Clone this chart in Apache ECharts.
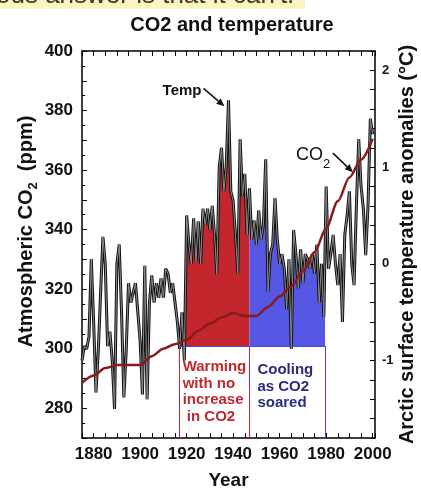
<!DOCTYPE html>
<html>
<head>
<meta charset="utf-8">
<title>CO2 and temperature</title>
<script src="https://cdn.jsdelivr.net/npm/echarts@6/dist/echarts.min.js"></script>
<style>
  html, body { margin: 0; padding: 0; background: #fff; }
  #main { width: 421px; height: 491px; }
</style>
</head>
<body>
<div id="main"></div>
<script>
// Arctic surface temperature anomalies (°C), one value per year from 1875
const tempStartYear = 1875;
const tempAnomaly = [
  -1.0, -0.85, -0.88, -0.75, 0.05, -0.6, -1.33, -0.9, -0.3, 0.28,
  0.0, -0.85, -0.7, -1.0, -1.5, 0.0, 0.2, -0.5, -1.38, -0.9,
  -0.2, -0.4, -0.3, -0.2, -0.5, -0.8, -1.35, -0.02, -1.4, -0.4,
  -0.12, -0.4, -0.2, -0.35, -0.15, -0.35, -0.05, -0.1, -0.3, -0.2,
  -0.4, -0.6, -0.88, -0.5, -1.0, 0.5, 0.2, 0.0, 0.47, 0.02,
  0.44, 0.0, 0.57, 0.4, 0.57, 0.35, 0.6, 0.3, -0.11, 1.0,
  1.2, 0.75, 1.0, 1.69, 0.75, 0.65, 0.3, -0.1, 1.29, 0.7,
  0.93, 0.3, 0.78, 0.25, 0.45, 0.2, 0.55, 0.25, 0.4, 1.08,
  -0.29, 0.1, 0.2, 0.68, 0.25, 0.0, 0.1, -0.05, -0.47, 0.05,
  -0.88, 0.35, 0.1, -0.25, 0.15, -0.2, 0.1, 0.05, -0.05, 0.1,
  -0.1, 0.2, -0.4, 0.0, -0.55, 0.8, -0.05, 0.1, 0.3, 0.0,
  -0.22, 0.1, -0.6, 0.3, 0.5, 0.75, 0.0, -0.22, 0.6, 1.29,
  0.8, 0.57, 0.09, 0.6, 1.5, 1.34
];

// Atmospheric CO2 (ppm)
const co2Years = [1875, 1880, 1885, 1890, 1895, 1900, 1905, 1910, 1915, 1920, 1925, 1930, 1935,
  1940, 1945, 1950, 1955, 1960, 1965, 1970, 1975, 1980, 1985, 1990, 1995, 2000];
const co2Ppm = [288.5, 291, 293.5, 294.5, 294.5, 294.5, 297.5, 300, 301.5, 303, 306, 308.5, 310.5,
  312, 311, 311, 314, 317.5, 321, 326, 332.5, 340.5, 349.5, 357.5, 363.5, 370.5];

const yearTicks = [1880, 1900, 1920, 1940, 1960, 1980, 2000];
const co2Ticks = [280, 300, 320, 340, 360, 380, 400];
const tempTicks = [-1, 0, 1, 2];

// warming / cooling periods and the level the shading starts from
const periods = [1917, 1947, 1979.5];
const baseline = -0.85;
const periodNotes = ['Warming\nwith no\nincrease\n in CO2', 'Cooling\nas CO2\nsoared'];

const RED = '#c4262e';
const BLUE = '#5757e6';
const FONT = 'Liberation Sans, Arial, sans-serif';

let tempSeries = tempAnomaly.map((v, i) => [tempStartYear + i, v]);
let co2Series = co2Years.map((y, i) => [y, co2Ppm[i]]);

function valueAt(year) {
  let i = Math.floor(year) - tempStartYear;
  let f = year - Math.floor(year);
  if (f === 0) return tempAnomaly[i];
  return tempAnomaly[i] + (tempAnomaly[i + 1] - tempAnomaly[i]) * f;
}

function periodFill(from, to) {
  let pts = [[from, Math.max(valueAt(from), baseline)]];
  tempSeries.forEach(p => {
    if (p[0] > from && p[0] < to) pts.push([p[0], Math.max(p[1], baseline)]);
  });
  pts.push([to, Math.max(valueAt(to), baseline)]);
  return pts;
}

function tickFormatter(list) {
  return function (v) {
    return list.some(t => Math.abs(t - v) < 1e-6) ? String(Math.round(v)) : '';
  };
}

let axisLine = {show: true, onZero: false, lineStyle: {color: '#000', width: 1.5}};
let axisTick = {show: true, inside: true, length: 5, lineStyle: {color: '#000', width: 1}};

let chartDom = document.getElementById('main');
let myChart = echarts.init(chartDom);
let option = {
  animation: false,
  textStyle: {fontFamily: FONT},
  title: {
    text: 'CO2 and temperature',
    left: 227,
    top: 10,
    textAlign: 'center',
    textStyle: {fontSize: 20, fontWeight: 'bold', color: '#111', fontFamily: FONT}
  },
  grid: {left: 82, right: 46, top: 51, bottom: 53, containLabel: false, outerBoundsMode: 'none'},
  xAxis: [
    {
      type: 'value', min: 1875, max: 2001, interval: 5, position: 'bottom',
      axisLine: axisLine, axisTick: axisTick, splitLine: {show: false},
      axisLabel: {formatter: tickFormatter(yearTicks), fontSize: 17, fontWeight: 'bold', color: '#111', margin: 8},
      name: 'Year', nameLocation: 'middle', nameGap: 33, nameMoveOverlap: false,
      nameTextStyle: {fontSize: 19, fontWeight: 'bold', color: '#111'}
    },
    {
      type: 'value', min: 1875, max: 2001, interval: 5, position: 'top',
      axisLine: axisLine, axisTick: axisTick, splitLine: {show: false},
      axisLabel: {show: false}
    }
  ],
  yAxis: [
    {
      type: 'value', min: 270, max: 400, interval: 10, position: 'left',
      axisLine: axisLine, axisTick: axisTick, splitLine: {show: false},
      minorTick: {show: true, splitNumber: 2, length: 3, lineStyle: {color: '#000'}},
      axisLabel: {formatter: tickFormatter(co2Ticks), fontSize: 17, fontWeight: 'bold', color: '#111', margin: 9},
      name: 'Atmospheric CO{sub|2}  (ppm)', nameLocation: 'middle', nameRotate: 90, nameGap: 42,
      nameMoveOverlap: false,
      nameTextStyle: {
        fontSize: 20, fontWeight: 'bold', color: '#111', padding: [0, 0, 0, 26],
        rich: {sub: {fontSize: 13, fontWeight: 'bold', color: '#111', verticalAlign: 'bottom', padding: [14, 0, 0, 0]}}
      }
    },
    {
      type: 'value', min: -1.8, max: 2.2, interval: 0.2, position: 'right',
      axisLine: axisLine, axisTick: axisTick, splitLine: {show: false},
      axisLabel: {formatter: tickFormatter(tempTicks), fontSize: 13, fontWeight: 'bold', color: '#111', margin: 7},
      name: 'Arctic surface temperature anomalies (°C)', nameLocation: 'middle', nameRotate: 90, nameGap: 22,
      nameMoveOverlap: false,
      nameTextStyle: {fontSize: 20, fontWeight: 'bold', color: '#111'}
    }
  ],
  series: [
    {
      name: 'warming', type: 'line', yAxisIndex: 1, silent: true, symbol: 'none', z: 1,
      data: periodFill(periods[0], periods[1]),
      lineStyle: {width: 0},
      areaStyle: {color: RED, opacity: 1, origin: baseline},
      markLine: {
        silent: true, symbol: 'none', label: {show: false}, animation: false,
        data: [
          [{coord: [periods[0], baseline], lineStyle: {color: RED, width: 1, type: 'solid'}}, {coord: [periods[0], -1.8]}],
          [{coord: [periods[1], baseline], lineStyle: {color: RED, width: 1, type: 'solid'}}, {coord: [periods[1], -1.8]}],
          [{coord: [periods[2], baseline], lineStyle: {color: '#4646d8', width: 1, type: 'solid'}}, {coord: [periods[2], -1.8]}],
          [{coord: [periods[0], baseline], lineStyle: {color: '#4646d8', width: 1, type: 'solid'}}, {coord: [periods[2], baseline]}]
        ]
      }
    },
    {
      name: 'cooling', type: 'line', yAxisIndex: 1, silent: true, symbol: 'none', z: 1,
      data: periodFill(periods[1], periods[2]),
      lineStyle: {width: 0},
      areaStyle: {color: BLUE, opacity: 1, origin: baseline}
    },
    {
      name: 'Temp', type: 'line', yAxisIndex: 1, symbol: 'none', z: 3,
      data: tempSeries,
      lineStyle: {color: '#111', width: 3}
    },
    {
      name: 'Temp inner', type: 'line', yAxisIndex: 1, symbol: 'none', z: 4,
      data: tempSeries,
      lineStyle: {color: '#8c8c8c', width: 1}
    },
    {
      name: 'CO2', type: 'line', yAxisIndex: 0, symbol: 'none', z: 5,
      smooth: 0.3, smoothMonotone: 'x',
      data: co2Series,
      lineStyle: {color: '#8b1a1a', width: 2.5}
    }
  ]
};
myChart.setOption(option);

function arrow(from, to) {
  let ang = Math.atan2(to[1] - from[1], to[0] - from[0]);
  let len = 8, half = 3.5;
  let bx = to[0] - len * Math.cos(ang), by = to[1] - len * Math.sin(ang);
  return [
    {type: 'line', shape: {x1: from[0], y1: from[1], x2: bx, y2: by}, style: {stroke: '#111', lineWidth: 1.5}},
    {type: 'polygon', shape: {points: [to, [bx - half * Math.sin(ang), by + half * Math.cos(ang)],
      [bx + half * Math.sin(ang), by - half * Math.cos(ang)]]}, style: {fill: '#111'}}
  ];
}

// annotations are anchored on the data they point at
let peakIdx = tempAnomaly.indexOf(Math.max(...tempAnomaly));
let peak = myChart.convertToPixel({xAxisIndex: 0, yAxisIndex: 1}, [tempStartYear + peakIdx, tempAnomaly[peakIdx]]);
let co2Pt = myChart.convertToPixel({xAxisIndex: 0, yAxisIndex: 0}, [1991.5, 359.3]);
let warmPt = myChart.convertToPixel({xAxisIndex: 0, yAxisIndex: 1}, [periods[0], baseline]);
let coolPt = myChart.convertToPixel({xAxisIndex: 0, yAxisIndex: 1}, [periods[1], baseline]);

let graphics = [
  {type: 'rect', shape: {x: 0, y: 0, width: 305, height: 9}, style: {fill: '#fbf5c2'}, z: 0},
  {type: 'text', x: -4, y: -4, style: {text: "ous answer is that it can't.", font: '26px ' + FONT, fill: '#3b3a25', verticalAlign: 'middle'}},
  {type: 'text', x: peak[0] - 27, y: peak[1] - 9, z: 10,
    style: {text: 'Temp', font: 'bold 15px ' + FONT, fill: '#111', align: 'right', verticalAlign: 'middle'}},
  {type: 'text', x: co2Pt[0] - 30, y: co2Pt[1] - 17, z: 10,
    style: {text: 'CO', font: '18px ' + FONT, fill: '#111', align: 'right', verticalAlign: 'middle'}},
  {type: 'text', x: co2Pt[0] - 30, y: co2Pt[1] - 8, z: 10,
    style: {text: '2', font: '13px ' + FONT, fill: '#111', align: 'left', verticalAlign: 'middle'}},
  {type: 'text', x: warmPt[0] + 3, y: warmPt[1] + 13, z: 10,
    style: {text: periodNotes[0], font: 'bold 15px ' + FONT, fill: '#c0282d', lineHeight: 16.5, align: 'left', verticalAlign: 'top'}},
  {type: 'text', x: coolPt[0] + 8, y: coolPt[1] + 16, z: 10,
    style: {text: periodNotes[1], font: 'bold 15px ' + FONT, fill: '#2a2a7e', lineHeight: 16.5, align: 'left', verticalAlign: 'top'}}
];
graphics = graphics.concat(arrow([peak[0] - 25, peak[1] - 12], [peak[0] - 4, peak[1] + 6]));
graphics = graphics.concat(arrow([co2Pt[0] - 20, co2Pt[1] - 19], co2Pt));
myChart.setOption({graphic: graphics});
</script>
</body>
</html>
